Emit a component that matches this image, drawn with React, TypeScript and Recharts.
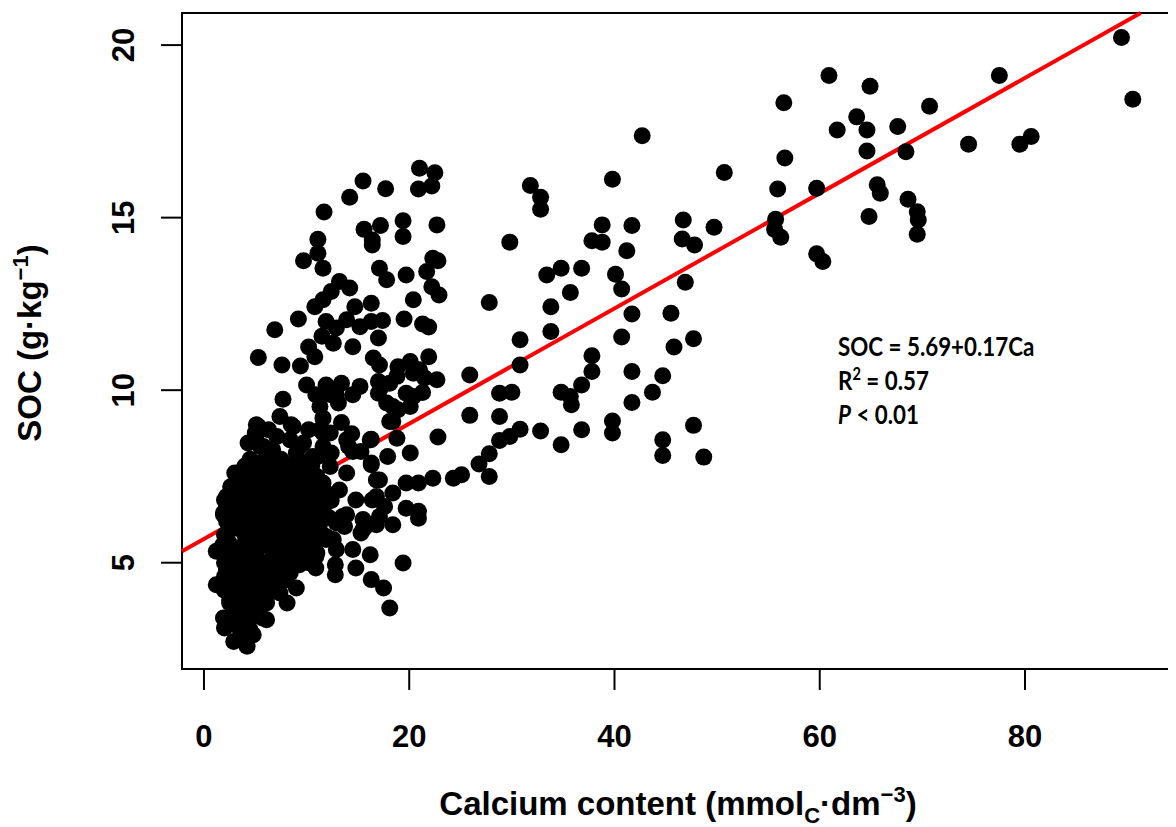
import React from 'react';
import { ScatterChart, Scatter, XAxis, YAxis, ReferenceLine, ReferenceArea } from 'recharts';

// [Ca, SOC] pairs, grouped by region
const highCa: [number, number][] = [
  [89.4, 20.22], [90.5, 18.43], [77.5, 19.12], [60.9, 19.12], [64.9, 18.81], [56.5, 18.33], [70.7, 18.23],
  [63.6, 17.92], [61.7, 17.54], [64.6, 17.54], [67.6, 17.64], [74.5, 17.13], [79.5, 17.13], [80.6, 17.35],
  [64.6, 16.93], [68.4, 16.91], [56.6, 16.73], [55.9, 15.83], [59.7, 15.85], [65.6, 15.95], [65.9, 15.71],
  [68.6, 15.53], [69.5, 15.17], [69.6, 14.93], [69.5, 14.52], [64.8, 15.03], [55.7, 14.95], [55.6, 14.66],
  [56.2, 14.43], [59.7, 13.95], [60.3, 13.73],
];

const midCa: [number, number][] = [
  [42.7, 17.37], [50.7, 16.31], [39.8, 16.11], [31.8, 15.93], [32.8, 15.59], [32.8, 15.24], [29.8, 14.29],
  [38.8, 14.79], [41.7, 14.77], [46.7, 14.93], [49.7, 14.72], [37.8, 14.33], [38.8, 14.29], [46.6, 14.38],
  [47.8, 14.21], [41.2, 14.04], [33.4, 13.34], [34.8, 13.53], [36.8, 13.53], [40.1, 13.36], [40.7, 12.93],
  [46.9, 13.13], [35.7, 12.83], [27.8, 12.54], [33.8, 12.42], [41.7, 12.21], [45.5, 12.23], [33.8, 11.7],
  [30.8, 11.46], [40.7, 11.54], [45.8, 11.25], [47.7, 11.49], [30.8, 10.73], [25.9, 10.44], [37.8, 11.0],
  [37.8, 10.54], [41.7, 10.54], [44.7, 10.42], [28.8, 9.91], [30.0, 9.94], [34.8, 9.94], [36.8, 10.15],
  [35.8, 9.58], [35.7, 9.82], [43.7, 9.94], [41.7, 9.64], [25.9, 9.27], [28.8, 9.24], [30.8, 8.87],
  [29.8, 8.66], [28.8, 8.54], [32.8, 8.82], [36.8, 8.85], [39.8, 9.11], [39.8, 8.76], [34.8, 8.42],
  [44.7, 8.56], [44.7, 8.11], [47.7, 8.98], [48.7, 8.06], [27.8, 8.16], [26.8, 7.86], [27.8, 7.5], [25.1, 7.55],
];

const lowCaUpper: [number, number][] = [
  [21.0, 16.43], [22.5, 16.3], [20.9, 15.83], [22.2, 15.92], [15.5, 16.06], [17.7, 15.84], [14.2, 15.59],
  [11.7, 15.16], [19.4, 14.91], [17.2, 14.77], [15.6, 14.66], [22.7, 14.79], [19.4, 14.45], [11.1, 14.37],
  [16.4, 14.35], [11.1, 13.97], [9.7, 13.75], [11.6, 13.53], [16.4, 14.21], [17.1, 13.53], [17.8, 13.2],
  [19.7, 13.34], [22.3, 13.82], [22.8, 13.75], [21.7, 13.44], [22.2, 13.0], [22.9, 12.76], [20.4, 12.62],
  [13.2, 13.15], [14.2, 12.96], [12.4, 12.86], [11.6, 12.62], [10.8, 12.42], [14.7, 12.42], [16.3, 12.52],
  [9.2, 12.06], [6.9, 11.75], [11.9, 11.99], [12.9, 11.8], [13.9, 12.04], [15.2, 11.84], [16.3, 11.99],
  [17.4, 12.02], [19.5, 12.06], [21.3, 11.92], [21.9, 11.83], [17.0, 11.51], [11.5, 11.56], [12.6, 11.36],
  [14.5, 11.26], [10.2, 11.25], [10.8, 10.97], [5.3, 10.95], [7.6, 10.73], [9.4, 10.7], [16.5, 10.93],
  [17.1, 10.73], [18.9, 10.68], [20.1, 10.83], [21.9, 10.97], [21.0, 10.59], [22.7, 10.3], [21.5, 10.35],
  [17.0, 10.25], [18.1, 10.2], [10.0, 10.15], [11.9, 10.15], [13.4, 10.2], [15.2, 10.11], [10.9, 9.87],
  [12.4, 9.87], [14.5, 9.87], [17.0, 9.91], [19.7, 9.91], [21.3, 9.93], [7.7, 9.74], [11.3, 9.53],
  [13.1, 9.63], [17.8, 9.63], [20.1, 9.53], [18.9, 9.43], [7.4, 9.24], [11.6, 9.19], [13.4, 9.06],
  [18.4, 9.09], [5.1, 9.0], [6.3, 8.85], [8.7, 8.95], [10.2, 8.85], [14.4, 8.74], [16.3, 8.58], [18.8, 8.61],
  [4.3, 8.47], [22.8, 8.64], [5.0, 8.76], [7.1, 8.66], [9.7, 8.47], [11.3, 8.85], [12.3, 8.76], [18.4, 9.53],
  [20.4, 9.82], [18.8, 10.4], [20.4, 10.49], [5.3, 8.95], [8.5, 9.0], [11.6, 8.76], [16.2, 8.56], [11.5, 9.87],
  [12.9, 9.87], [17.3, 10.11], [18.1, 9.09],
];

const lowCaMiddle: [number, number][] = [
  [3.8, 7.69], [2.2, 6.92], [1.9, 6.44], [6.7, 8.27], [8.4, 8.56], [9.0, 8.18], [10.6, 8.08], [11.6, 8.37],
  [13.9, 8.56], [14.5, 8.22], [12.3, 7.79], [13.9, 7.6], [16.3, 7.84], [16.8, 7.4], [11.6, 7.31], [13.2, 7.11],
  [14.8, 6.82], [16.8, 6.92], [11.6, 6.53], [13.5, 6.34], [15.5, 6.25], [5.1, 7.79], [6.1, 7.4], [4.5, 7.21],
  [7.1, 7.11], [9.3, 7.5], [9.7, 6.92], [8.1, 6.63], [6.4, 6.44], [10.0, 6.34], [3.5, 6.25], [5.1, 6.15],
  [8.4, 6.15], [9.3, 8.37], [5.8, 8.37], [5.1, 8.71], [20.1, 8.18], [17.9, 8.08], [16.3, 7.89], [14.1, 8.37],
  [15.3, 8.22], [11.1, 8.08], [12.4, 8.18], [24.3, 7.45], [22.3, 7.45], [20.9, 7.31], [19.7, 7.31],
  [18.4, 7.02], [17.1, 7.4], [16.4, 6.82], [17.6, 6.63], [19.7, 6.58], [20.9, 6.49], [20.9, 6.29], [18.4, 6.1],
  [17.1, 6.34], [16.0, 6.1], [15.3, 5.86], [16.2, 5.23], [14.5, 5.38], [14.8, 4.85], [16.3, 4.51], [17.5, 4.27],
  [18.1, 3.69], [19.4, 4.99], [12.8, 4.94], [12.8, 4.65], [10.9, 4.85], [10.9, 5.18], [11.6, 6.49], [13.9, 6.39],
  [12.9, 6.15], [13.7, 6.05], [11.9, 5.76], [12.6, 5.67], [11.3, 5.91],
];

const lowCaLower: [number, number][] = [
  [2.9, 2.72], [4.2, 2.58], [2.0, 3.11], [1.9, 3.4], [4.2, 3.16], [4.8, 2.91], [5.7, 3.4], [3.5, 3.35],
  [2.5, 3.83], [1.2, 4.36], [2.5, 4.41], [4.2, 3.83], [6.1, 3.83], [8.1, 3.83], [9.0, 4.27], [7.4, 4.12],
  [1.2, 5.33], [2.2, 4.8], [2.0, 6.82], [1.9, 6.39], [3.0, 7.02], [3.7, 7.64], [5.1, 7.69], [5.5, 8.37],
  [2.2, 4.89], [2.2, 3.25], [4.5, 3.4], [4.5, 3.06], [2.5, 3.93], [2.8, 4.31], [3.5, 3.93], [6.1, 4.02],
  [7.1, 4.36], [5.1, 4.51], [4.2, 4.7], [6.8, 4.8], [8.4, 4.7], [9.3, 4.94], [11.0, 5.28], [12.9, 5.38],
  [11.9, 5.67], [11.0, 5.71], [15.5, 5.96], [16.8, 6.1], [4.2, 5.67], [5.5, 5.86], [7.1, 5.67], [8.7, 5.86],
  [9.7, 5.57], [3.2, 5.28], [5.1, 5.28], [6.7, 5.18], [8.4, 5.18], [2.5, 6.05], [9.3, 6.15], [3.5, 4.89],
  [6.1, 4.99], [7.7, 4.99], [2.5, 4.51], [6.1, 3.35], [3.8, 3.64],
];

const lowCaDense: [number, number][] = [
  [4.5, 8.0], [6.0, 8.0], [7.5, 8.0], [9.0, 7.9], [10.5, 7.8],
  [3.0, 7.6], [4.8, 7.6], [6.4, 7.6], [8.0, 7.6], [9.6, 7.6], [11.0, 7.5],
  [2.6, 7.2], [4.0, 7.3], [5.6, 7.2], [7.6, 7.3], [9.0, 7.2], [10.4, 7.1], [12.0, 7.0],
  [3.0, 6.8], [4.6, 6.8], [6.2, 6.8], [7.8, 6.9], [9.4, 6.6], [10.8, 6.8], [12.4, 6.8],
  [2.8, 6.4], [4.4, 6.4], [6.0, 6.2], [7.4, 6.4], [9.0, 6.4], [10.6, 6.5], [12.2, 6.3],
  [3.2, 6.0], [4.8, 5.9], [6.6, 6.0], [8.0, 6.0], [9.6, 5.9], [11.0, 6.0],
  [2.4, 5.6], [3.8, 5.5], [5.4, 5.6], [7.0, 5.4], [8.4, 5.5], [10.0, 5.3],
  [2.6, 5.2], [4.2, 5.1], [5.8, 5.0], [7.4, 5.3], [9.0, 5.2], [10.2, 5.0],
  [3.2, 4.6], [5.0, 4.8], [6.6, 4.6], [8.0, 4.5],
  [3.6, 4.2], [5.4, 4.3], [7.2, 4.6],
  [3.0, 4.0], [4.6, 4.0], [3.0, 3.6], [4.2, 3.5],
];

const lowCaDense2: [number, number][] = [
  [4.0, 7.8], [5.4, 7.9], [6.8, 7.8], [8.4, 7.8], [9.8, 7.9],
  [3.4, 7.4], [5.2, 7.4], [7.0, 7.5], [8.6, 7.4], [10.2, 7.4],
  [3.4, 7.0], [5.0, 7.0], [6.8, 7.0], [8.4, 7.0], [9.8, 7.0], [11.2, 6.9],
  [2.2, 6.6], [3.8, 6.6], [5.4, 6.6], [7.0, 6.6], [8.6, 6.8], [10.2, 6.7], [11.6, 6.7],
  [2.2, 6.2], [3.6, 6.2], [5.2, 6.4], [6.8, 6.3], [8.2, 6.3], [9.8, 6.2], [11.4, 6.2],
  [2.0, 5.8], [4.0, 5.8], [5.6, 5.8], [7.4, 5.8], [9.0, 5.8], [10.4, 5.7],
  [1.8, 5.5], [3.0, 5.4], [4.6, 5.4], [6.2, 5.5], [7.8, 5.5], [9.4, 5.4],
  [2.0, 5.0], [3.4, 5.0], [5.0, 5.0], [6.4, 5.0], [8.2, 5.0],
  [2.0, 4.6], [4.0, 4.6], [5.8, 4.6], [7.4, 4.8],
  [2.0, 4.2], [4.4, 4.2], [6.2, 4.3],
  [3.8, 3.8], [5.2, 3.8], [3.0, 3.2], [3.6, 2.9],
];

const xTicks = [0, 20, 40, 60, 80];
const yTicks = [5, 10, 15, 20];
const xDomain = [-2.14, 94.03];
const yDomain = [1.92, 20.93];
const fitCa = [-2.14, 91.26];
const fitSoc = [5.33, 20.93];

const points = [
  ...highCa, ...midCa, ...lowCaUpper, ...lowCaMiddle, ...lowCaLower, ...lowCaDense, ...lowCaDense2,
].map(([ca, soc]) => ({ ca, soc }));

const AXIS_FONT = 'Liberation Sans, Arial, sans-serif';

const Dot = (props: any) => <circle cx={props.cx} cy={props.cy} r={8.5} fill="#000" />;

const XTick = (props: any) => (
  <text x={props.x} y={props.y} dy="0.71em" textAnchor="middle" fontFamily={AXIS_FONT} fontWeight="bold" fontSize={31} fill="#000">
    {props.payload.value}
  </text>
);

const YTick = (props: any) => (
  <text
    x={props.x}
    y={props.y}
    transform={`rotate(-90, ${props.x}, ${props.y})`}
    textAnchor="middle"
    fontFamily={AXIS_FONT}
    fontWeight="bold"
    fontSize={31}
    fill="#000"
  >
    {props.payload.value}
  </text>
);

export default function App() {
  const W = 1168;
  const H = 819;
  return (
    <div style={{ position: 'relative', width: W, height: H }}>
      <ScatterChart width={W} height={H} margin={{ top: 5, right: 7, bottom: 0, left: 0 }}>
        <XAxis
          type="number"
          dataKey="ca"
          domain={xDomain}
          ticks={xTicks}
          allowDataOverflow
          axisLine={false}
          tickLine={{ stroke: '#000', strokeWidth: 2 }}
          tickSize={21}
          tickMargin={35}
          height={158}
          tick={<XTick />}
        />
        <YAxis
          type="number"
          dataKey="soc"
          domain={yDomain}
          ticks={yTicks}
          allowDataOverflow
          axisLine={false}
          tickLine={{ stroke: '#000', strokeWidth: 2 }}
          tickSize={21}
          tickMargin={27}
          width={174}
          tick={<YTick />}
        />
        <ReferenceArea
          x1={xDomain[0]}
          x2={xDomain[1]}
          y1={yDomain[0]}
          y2={yDomain[1]}
          fill="none"
          stroke="#000"
          strokeWidth={2}
          ifOverflow="visible"
        />
        <Scatter data={points} shape={<Dot />} isAnimationActive={false} />
        <ReferenceLine
          segment={[
            { x: fitCa[0], y: fitSoc[0] },
            { x: fitCa[1], y: fitSoc[1] },
          ]}
          stroke="#ff0000"
          strokeWidth={4}
          ifOverflow="visible"
        />
      </ScatterChart>
      <svg width={W} height={H} style={{ position: 'absolute', left: 0, top: 0, pointerEvents: 'none' }}>
        <text
          x={33}
          y={335}
          transform="rotate(-90, 33, 335)"
          textAnchor="middle"
          fontFamily={AXIS_FONT}
          fontWeight="bold"
          fontSize={33}
          fill="#000"
        >
          SOC (g·kg
          <tspan fontSize={22} dy={-13}>−1</tspan>
          <tspan dy={13}>)</tspan>
        </text>
        <text x={670} y={807} textAnchor="middle" fontFamily={AXIS_FONT} fontWeight="bold" fontSize={33} fill="#000">
          Calcium content (mmol
          <tspan fontSize={22} dy={8}>C</tspan>
          <tspan dy={-8}>·dm</tspan>
          <tspan fontSize={22} dy={-13}>−3</tspan>
          <tspan dy={13}>)</tspan>
        </text>
        <g
          transform="translate(830, 0) scale(0.86, 1)"
          fontFamily="Lato, 'Open Sans', sans-serif"
          fontWeight="bold"
          fontSize={26}
          fill="#000"
        >
          <text x={0} y={348}>SOC = 5.69+0.17Ca</text>
          <text x={0} y={382}>
            R<tspan fontSize={17} dy={-10}>2</tspan>
            <tspan dy={10}> = 0.57</tspan>
          </text>
          <text x={0} y={416}>
            <tspan fontStyle="italic">P</tspan> &lt; 0.01
          </text>
        </g>
      </svg>
    </div>
  );
}
